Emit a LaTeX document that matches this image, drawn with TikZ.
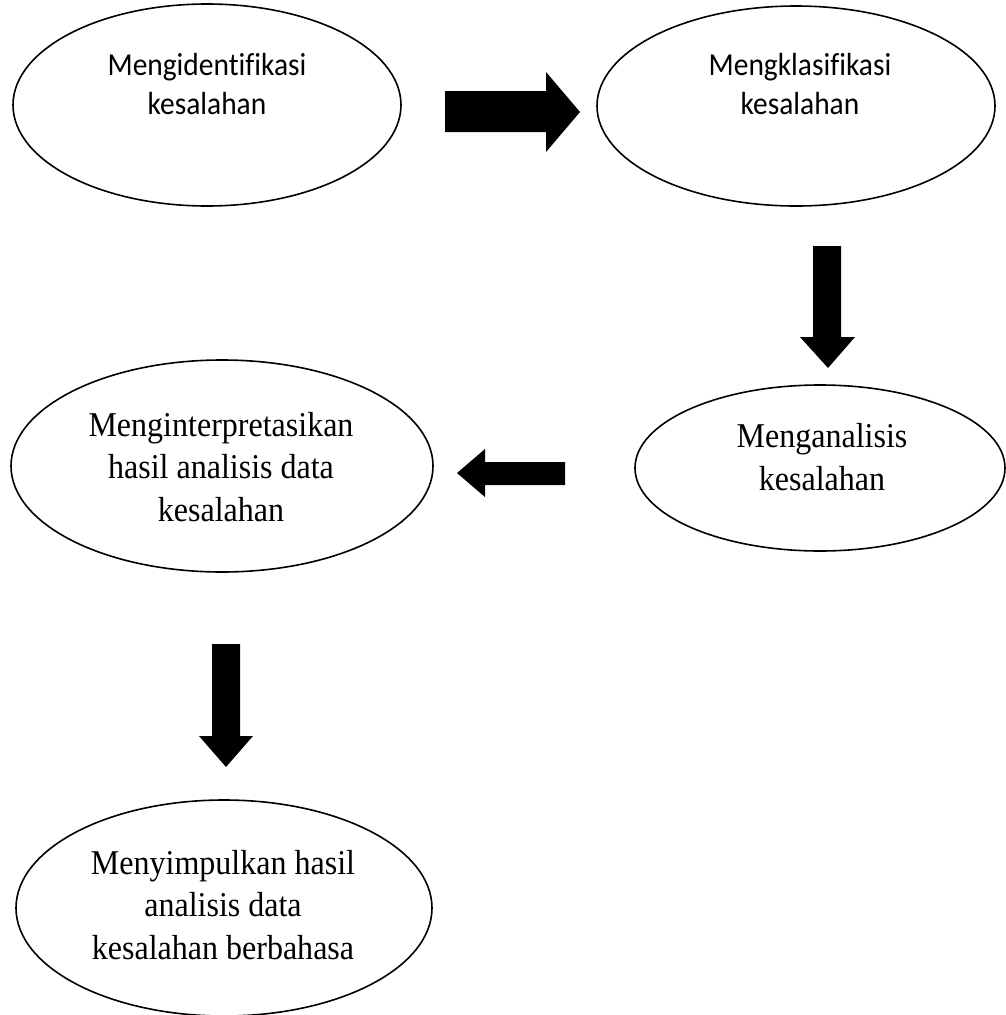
\documentclass[tikz,border=0pt]{standalone}
\usepackage{fontspec}
\setmainfont[FakeStretch=0.92]{Liberation Serif}
\newfontfamily\calib[FakeStretch=0.92,Ligatures={NoCommon}]{Carlito}
\usetikzlibrary{shapes.geometric}
\begin{document}
\begin{tikzpicture}[x=1pt,y=-1pt,
  oval/.style={draw, line width=1.6pt, ellipse, inner sep=0pt},
  sanslbl/.style={align=center, font=\calib\fontsize{32}{39}\selectfont, inner sep=0pt},
  seriflbl/.style={align=center, font=\fontsize{34.8}{42.5}\selectfont, inner sep=0pt},
  blockarrow/.style={fill=black}]
\useasboundingbox (0,0) rectangle (1005,1015);
% ellipses
\node[oval, minimum width=388pt, minimum height=202pt] (e1) at (207,105) {};
\node[oval, minimum width=398pt, minimum height=200pt] (e2) at (796,106) {};
\node[oval, minimum width=370pt, minimum height=166pt] (e3) at (820,468) {};
\node[oval, minimum width=422pt, minimum height=212pt] (e4) at (222,466) {};
\node[oval, minimum width=416pt, minimum height=216pt] (e5) at (224,908) {};
% labels
\node[sanslbl] (t1) at (207,84) {Mengidentifikasi\\kesalahan};
\node[sanslbl] (t2) at (800,84) {Mengklasifikasi\\kesalahan};
\node[seriflbl] (t3) at (822,457) {Menganalisis\\kesalahan};
\node[seriflbl] (t4) at (221,467) {Menginterpretasikan\\hasil analisis data\\kesalahan};
\node[seriflbl] (t5) at (223,905) {Menyimpulkan hasil\\analisis data\\kesalahan berbahasa};
% block arrows
\fill[blockarrow] (445,91) -- (546,91) -- (546,72) -- (580,112) -- (546,152) -- (546,132) -- (445,132) -- cycle;
\fill[blockarrow] (813,246) -- (841,246) -- (841,337) -- (855,337) -- (828,368) -- (800,337) -- (813,337) -- cycle;
\fill[blockarrow] (565,462) -- (485,462) -- (485,449) -- (457,473) -- (485,497) -- (485,485) -- (565,485) -- cycle;
\fill[blockarrow] (212,644) -- (240,644) -- (240,736) -- (253,736) -- (226,767) -- (199,736) -- (212,736) -- cycle;
\end{tikzpicture}
\end{document}
